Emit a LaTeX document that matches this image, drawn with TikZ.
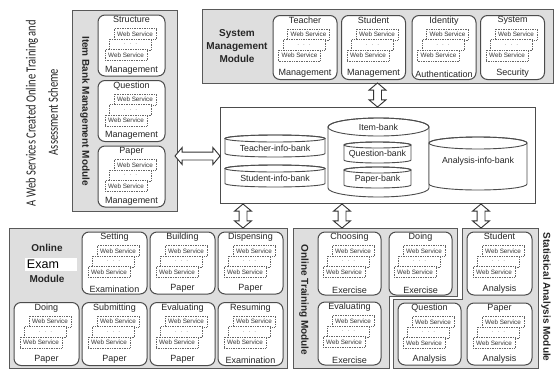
\documentclass[tikz,border=0pt]{standalone}
\usepackage{fontspec}
\setmainfont{Liberation Sans}
\newfontfamily\titlefont[FakeStretch=0.75]{Carlito}
\usetikzlibrary{shapes.arrows,calc}

\tikzset{
  modbox/.style={draw=black!65, line width=0.9pt, fill=black!13},
  svcbox/.style={draw=black!70, line width=1pt, rounded corners=7pt, fill=white, inner sep=0pt},
  svctext/.style={font=\fontsize{9}{10}\selectfont, text=black!85, inner sep=0.5pt},
  wsbox/.style={draw=black!60, densely dotted, line width=0.7pt, fill=white,
    minimum width=42pt, minimum height=11pt, inner sep=0pt,
    font=\fontsize{6.3}{7}\selectfont, text=black!80},
  modlabel/.style={font=\bfseries\fontsize{10}{13}\selectfont, text=black!85, align=center, inner sep=0pt},
  dbline/.style={draw=black!70, line width=0.9pt},
  dbtext/.style={font=\fontsize{8.8}{10}\selectfont, text=black!85, inner sep=0pt},
  dblarrow/.style={double arrow, draw=black!80, line width=0.9pt, fill=white,
    inner sep=3.5pt, double arrow head extend=4.5pt, double arrow tip angle=100},
}

% service box: name, centre x, centre y, width, height, upper word, lower word
\newcommand\svc[7]{%
  \node[svcbox, minimum width=#4pt, minimum height=#5pt] (#1) at (#2,#3) {};
  \node[svctext, anchor=north] (#1-t) at ([yshift=-1pt]#1.north) {#6};
  \node[svctext, anchor=south] (#1-b) at ([yshift=1.5pt]#1.south) {#7};
  \node[wsbox] (#1-w1) at ([xshift=3.5pt,yshift=-19.5pt]#1.north) {Web Service};
  \node[wsbox] (#1-w2) at ([xshift=-1pt,yshift=-30pt]#1.north) {$\cdot\ \cdot\ \cdot$};
  \node[wsbox] (#1-w3) at ([xshift=-5.5pt,yshift=-40.5pt]#1.north) {Web Service};
}

% upright data store: name, centre x, centre y, width, height, cap radius
\newcommand\drum[6]{%
  \node[minimum width=#4pt, minimum height=#5pt, inner sep=0pt, outer sep=0pt] (#1) at (#2,#3) {};
  \pgfmathsetmacro\drumrx{#4/2}%
  \draw[dbline, fill=white] ([yshift=-#6pt]#1.north west) -- ([yshift=#6pt]#1.south west)
    arc[start angle=180, end angle=360, x radius=\drumrx pt, y radius=#6pt]
    -- ([yshift=-#6pt]#1.north east)
    arc[start angle=0, end angle=180, x radius=\drumrx pt, y radius=#6pt] -- cycle;
  \draw[dbline] ([yshift=-#6pt]#1.north) ellipse[x radius=\drumrx pt, y radius=#6pt];
}

\begin{document}
\begin{tikzpicture}[x=1pt, y=-1pt]
\useasboundingbox (0,0) rectangle (554,370);
\fill[white] (0,0) rectangle (554,370);

% title
\node[rotate=90, font=\titlefont\fontsize{14}{16}\selectfont, text=black!85, inner sep=0pt] (title1) at (32,113) {A Web Services Created Online Training and};
\node[rotate=90, font=\titlefont\fontsize{14}{16}\selectfont, text=black!85, inner sep=0pt] (title2) at (53,112) {Assessment Scheme};

% item bank management module
\node[modbox, minimum width=105pt, minimum height=201pt, inner sep=0pt] (itemmod) at (124.5,110.5) {};
\node[modlabel, rotate=-90] (itemlab) at (85,111) {Item Bank Management Module};
\svc{structure}{131.5}{45.5}{67}{61}{Structure}{Management}
\svc{question}{131.5}{111}{67}{61}{Question}{Management}
\svc{paper}{131.5}{176.5}{67}{61}{Paper}{Management}

% system management module
\node[modbox, minimum width=351pt, minimum height=74pt, inner sep=0pt] (sysmod) at (377.5,46) {};
\node[modlabel] (syslab) at (237,46) {System\\Management\\Module};
\svc{teacher}{305}{47.5}{64}{64}{Teacher}{Management}
\svc{student}{373.5}{47.5}{64}{64}{Student}{Management}
\svc{identity}{444}{47.5}{64}{64}{Identity}{Authentication}
\svc{syssec}{512.5}{47.5}{64}{64}{System}{Security}

% data banks
\node[draw=black!70, line width=1pt, fill=white, minimum width=315pt, minimum height=96pt, inner sep=0pt] (db) at (377.5,155) {};
\drum{tib}{275}{146}{100}{22}{3.5}
\node[dbtext] at (275,148) {Teacher-info-bank};
\drum{sib}{275}{176}{100}{22}{3.5}
\node[dbtext] at (275,178) {Student-info-bank};
\drum{itb}{378.5}{157.5}{101}{79}{9}
\node[dbtext] at (378.5,127) {Item-bank};
\drum{qb}{377.5}{152.5}{67}{21}{3}
\node[dbtext] at (377.5,154) {Question-bank};
\drum{pb}{377.5}{177.5}{67}{21}{3}
\node[dbtext] at (377.5,179) {Paper-bank};
\drum{aib}{478}{163.5}{98}{53}{6}
\node[dbtext] at (478,161) {Analysis-info-bank};

% online exam module
\node[modbox, minimum width=278pt, minimum height=140pt, inner sep=0pt] (exammod) at (148,298) {};
\node[modlabel] (examlab1) at (47,248) {Online};
\node[fill=white, text width=48pt, minimum height=13pt, inner sep=2pt, align=left,
      font=\fontsize{12.5}{13}\selectfont] (examlab2) at (51,264) {Exam};
\node[modlabel] (examlab3) at (47,279) {Module};
\svc{setting}{114.5}{263}{65}{62}{Setting}{Examination}
\svc{building}{182.5}{263}{65}{62}{Building}{Paper}
\svc{dispensing}{250.5}{263}{65}{62}{Dispensing}{Paper}
\svc{doingp}{46.5}{334}{65}{63}{Doing}{Paper}
\svc{submitting}{114.5}{334}{65}{63}{Submitting}{Paper}
\svc{evaluatingp}{182.5}{334}{65}{63}{Evaluating}{Paper}
\svc{resuming}{250.5}{334}{65}{63}{Resuming}{Examination}

% online training module
\draw[modbox] (293,228) -- (457,228) -- (457,296) -- (389,296) -- (389,368) -- (293,368) -- cycle;
\node[modlabel, rotate=-90] (trainlab) at (304,300) {Online Training Module};
\svc{choosing}{349.5}{263.5}{63}{63}{Choosing}{Exercise}
\svc{doingx}{420.5}{263.5}{63}{63}{Doing}{Exercise}
\svc{evaluatingx}{349.5}{333.5}{63}{63}{Evaluating}{Exercise}

% statistical analysis module
\draw[modbox] (462,228) -- (538,228) -- (538,368) -- (393,368) -- (393,299) -- (462,299) -- cycle;
\node[modlabel, rotate=-90] (statlab) at (546,297) {Statistical Analysis Module};
\svc{stustat}{499.5}{263.5}{65}{63}{Student}{Analysis}
\svc{qstat}{429.5}{334}{63}{62}{Question}{Analysis}
\svc{pstat}{499.5}{334}{65}{62}{Paper}{Analysis}

% links between modules and the data banks
\node[dblarrow, minimum height=24pt, rotate=90] (a1) at ($(sysmod.south)!0.5!(db.north)$) {};
\node[dblarrow, minimum height=45pt] (a2) at (197.5,156) {};
\node[dblarrow, minimum height=24pt, rotate=90] (a3) at (243,216) {};
\node[dblarrow, minimum height=24pt, rotate=90] (a4) at (342,216) {};
\node[dblarrow, minimum height=24pt, rotate=90] (a5) at (481,216) {};
\end{tikzpicture}
\end{document}
